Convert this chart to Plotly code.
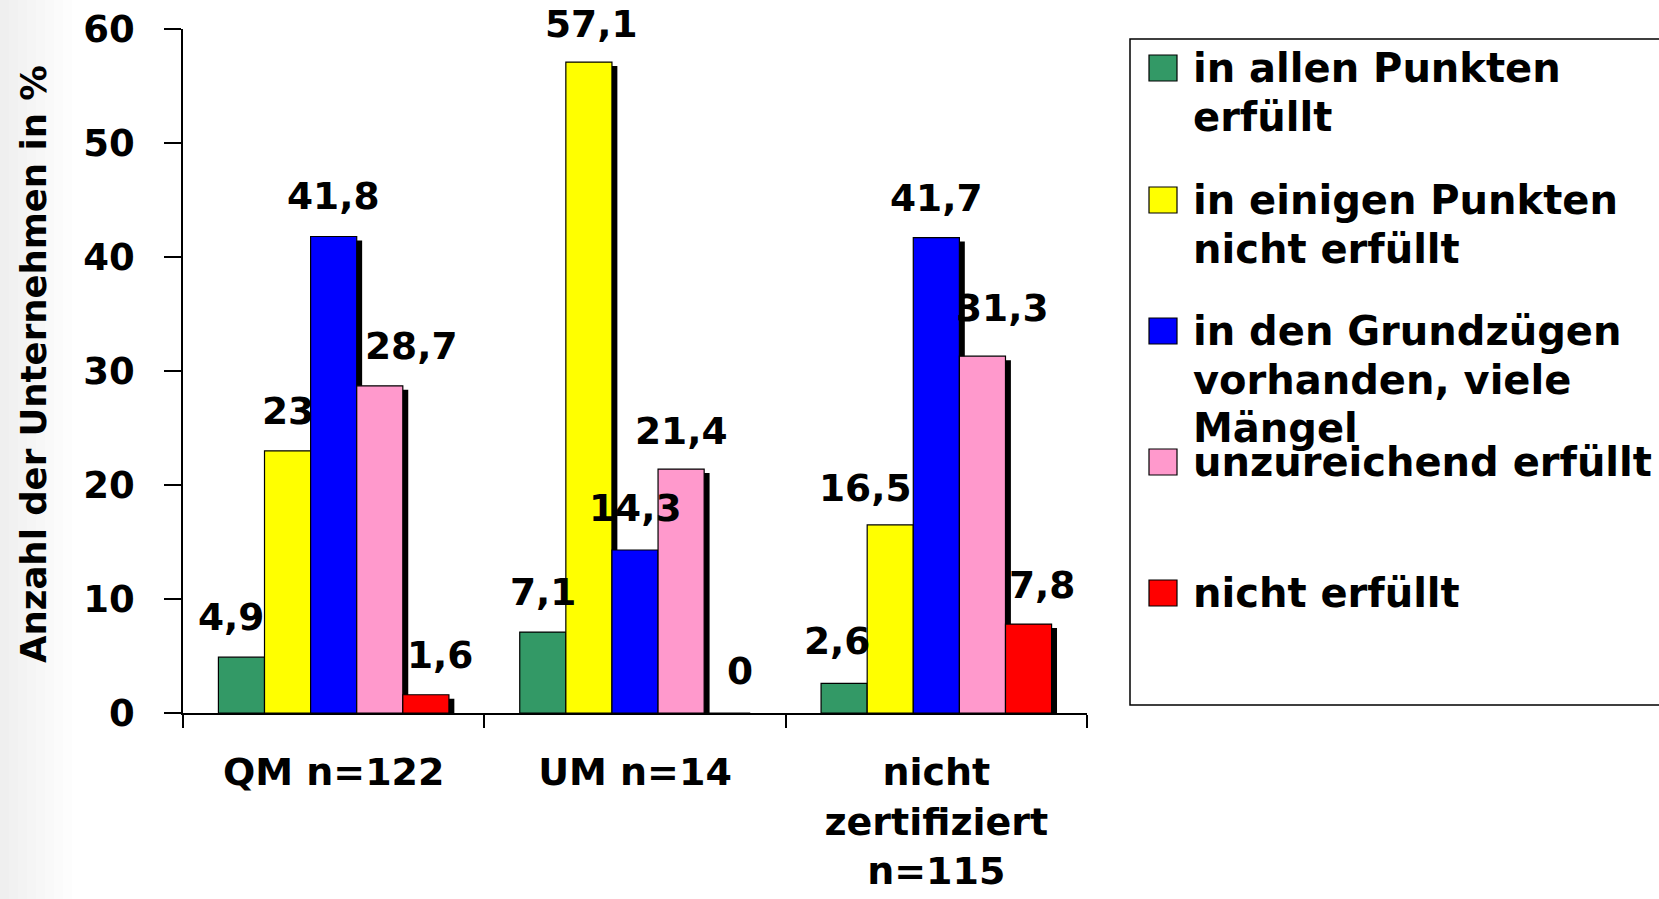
import plotly.graph_objects as go

# ---------------- data ----------------
categories = ["QM n=122", "UM n=14", "nicht<br>zertifiziert<br>n=115"]
series_names = [
    "in allen Punkten erfüllt",
    "in einigen Punkten nicht erfüllt",
    "in den Grundzügen vorhanden, viele Mängel",
    "unzureichend erfüllt",
    "nicht erfüllt",
]
legend_lines = [
    ["in allen Punkten", "erfüllt"],
    ["in einigen Punkten", "nicht erfüllt"],
    ["in den Grundzügen", "vorhanden, viele", "Mängel"],
    ["unzureichend erfüllt"],
    ["nicht erfüllt"],
]
vals_allen = [4.9, 7.1, 2.6]
vals_einigen = [23, 57.1, 16.5]
vals_grund = [41.8, 14.3, 41.7]
vals_unzu = [28.7, 21.4, 31.3]
vals_nicht = [1.6, 0, 7.8]
y_ticks = [0, 10, 20, 30, 40, 50, 60]
y_title = "Anzahl der Unternehmen in %"

series_values = [vals_allen, vals_einigen, vals_grund, vals_unzu, vals_nicht]

# ---------------- styles ----------------
colors = ["#339966", "#FFFF00", "#0000FF", "#FF99CC", "#FF0000"]
FONT = "DejaVu Sans"
W, H = 1659, 899
L, R, T, B = 183, 1087, 29, 713          # plot area in px
bar_w = 0.153                              # bar width in category units
shadow_dx = 0.018                          # shadow offset (category units)
shadow_dy = 0.35                           # shadow offset (y units)

# per-label pixel nudges (x) and vertical distance above bar top
label_dx = [[-10, 0, -7], [0, 3, -25], [0, 0, 0], [32, 0, 20], [14, 13, 13]]
label_dy = [[40, 40, 42], [40, 38, 37], [40, 42, 40], [40, 38, 48], [40, 42, 39]]

def px_x(px):
    return (px - L) / (R - L)

def px_y(py):
    return (B - py) / (B - T)

fig = go.Figure()

n = len(series_values)
# shadows first
for j, vals in enumerate(series_values):
    off = -n / 2 * bar_w + j * bar_w
    fig.add_trace(go.Bar(
        x=categories, y=vals, base=-shadow_dy,
        width=bar_w, offset=off + shadow_dx,
        marker=dict(color="black", line=dict(width=0)),
        showlegend=False, hoverinfo="skip",
    ))
# main bars
for j, vals in enumerate(series_values):
    off = -n / 2 * bar_w + j * bar_w
    fig.add_trace(go.Bar(
        x=categories, y=vals, name=series_names[j],
        width=bar_w, offset=off,
        marker=dict(color=colors[j], line=dict(color="black", width=1.2)),
        showlegend=False,
    ))

annotations = []
# value labels
for j, vals in enumerate(series_values):
    for i, v in enumerate(vals):
        xc = i + (-n / 2 + 0.5 + j) * bar_w
        annotations.append(dict(
            x=xc, y=v, xref="x", yref="y",
            text=f"{v:g}".replace(".", ","),
            showarrow=False, xanchor="center", yanchor="middle",
            xshift=label_dx[j][i], yshift=label_dy[j][i],
            font=dict(family=FONT, size=37.5, color="black", weight="bold"),
        ))

# y-axis title
annotations.append(dict(
    x=px_x(33), y=px_y(364), xref="paper", yref="paper",
    text=y_title, textangle=-90, showarrow=False,
    xanchor="center", yanchor="middle",
    font=dict(family=FONT, size=35.5, color="black", weight="bold"),
))

shapes = []
# faint grey slide-background fade at the left edge
fade = ["#efefef", "#f1f1f1", "#f3f3f3", "#f5f5f5", "#f7f7f7", "#f9f9f9", "#fbfbfb", "#fdfdfd"]
for k, c in enumerate(fade):
    shapes.append(dict(type="rect", xref="paper", yref="paper",
                       x0=px_x(k * 9), x1=px_x(k * 9 + 9), y0=px_y(H), y1=px_y(0),
                       fillcolor=c, line=dict(width=0), layer="below"))

# legend box (custom)
shapes.append(dict(type="rect", xref="paper", yref="paper",
                   x0=px_x(1130), x1=px_x(1720), y0=px_y(705), y1=px_y(39),
                   fillcolor="rgba(0,0,0,0)", line=dict(color="black", width=1.5)))
item_y = [68, 200, 331, 462, 593]
line_h = 48.7
for j, lines in enumerate(legend_lines):
    yc = item_y[j]
    shapes.append(dict(type="rect", xref="paper", yref="paper",
                       x0=px_x(1149), x1=px_x(1177), y0=px_y(yc + 13), y1=px_y(yc - 13),
                       fillcolor=colors[j], line=dict(color="black", width=1.2)))
    for k, t in enumerate(lines):
        annotations.append(dict(
            x=px_x(1191), y=px_y(yc + k * line_h), xref="paper", yref="paper",
            text=t, showarrow=False, xanchor="left", yanchor="middle",
            font=dict(family=FONT, size=40, color="black", weight="bold"),
        ))

fig.update_layout(
    width=W, height=H,
    margin=dict(l=L, r=W - R, t=T, b=H - B),
    barmode="overlay",
    paper_bgcolor="white", plot_bgcolor="white",
    showlegend=False,
    annotations=annotations,
    shapes=shapes,
    xaxis=dict(
        type="category", range=[-0.5, len(categories) - 0.5],
        tickson="boundaries", ticks="outside", ticklen=13, tickwidth=1.5, tickcolor="black",
        showline=True, linecolor="black", linewidth=1.5, showgrid=False,
        tickfont=dict(family=FONT, size=38, color="black", weight="bold"),
        ticklabelstandoff=25, automargin=False,
    ),
    yaxis=dict(
        range=[0, 60], tickvals=y_ticks, ticks="outside", ticklen=17, tickwidth=1.5,
        tickcolor="black", showline=True, linecolor="black", linewidth=1.5,
        showgrid=False, zeroline=False,
        tickfont=dict(family=FONT, size=37, color="black", weight="bold"),
        ticklabelstandoff=22, automargin=False,
    ),
)

fig.write_html(
    "out.html",
    config={"displayModeBar": False},
    post_script="document.body.style.margin='0';document.body.style.overflow='hidden';",
)
